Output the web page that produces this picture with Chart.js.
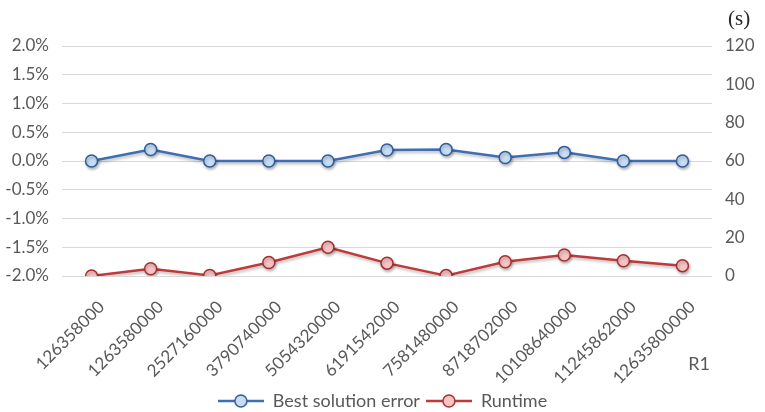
<!DOCTYPE html>
<html>
<head>
<meta charset="utf-8">
<script src="https://cdn.jsdelivr.net/npm/chart.js@4.4.1/dist/chart.umd.min.js"></script>
<style>
  html, body { margin: 0; padding: 0; background: #ffffff; }
  #wrap { width: 765px; height: 412px; position: relative; }
</style>
</head>
<body>
<div id="wrap"><canvas id="c" width="765" height="412"></canvas></div>
<script>
// ---- data ----
const categories = ['126358000','1263580000','2527160000','3790740000','5054320000','6191542000','7581480000','8718702000','10108640000','11245862000','12635800000'];
const bestSolutionError = [0, 0.20, 0, 0, 0, 0.19, 0.20, 0.06, 0.15, 0, 0]; // percent
const runtime = [0, 3.8, 0.3, 7.0, 15.0, 6.7, 0.2, 7.4, 11.0, 8.0, 5.4];       // seconds
const leftTicks = { min: -2, max: 2, step: 0.5 };
const rightTicks = { min: 0, max: 120, step: 20 };
const seriesNames = ['Best solution error', 'Runtime'];
const rightAxisUnit = '(s)';
const xAxisTitle = 'R1';

// ---- styles ----
const FONT = 'Lato';
const TXT = '#595959';
const BLUE = '#3F6FB2', BLUE_FILL = '#C8DCF4', BLUE_EDGE = '#2E5D9C';
const RED = '#C0393B', RED_FILL = '#F7C4C4', RED_EDGE = '#A62E30';

function legendIcon(line, fill, edge) {
  const cv = document.createElement('canvas');
  cv.width = 46; cv.height = 16;
  const g = cv.getContext('2d');
  g.strokeStyle = line; g.lineWidth = 2.5;
  g.beginPath(); g.moveTo(0, 8); g.lineTo(46, 8); g.stroke();
  g.beginPath(); g.arc(23, 8, 6, 0, Math.PI * 2);
  g.fillStyle = fill; g.fill();
  g.lineWidth = 1.5; g.strokeStyle = edge; g.stroke();
  return cv;
}
const icons = [legendIcon(BLUE, BLUE_FILL, BLUE_EDGE), legendIcon(RED, RED_FILL, RED_EDGE)];

const shadowPlugin = {
  id: 'shadow',
  beforeDatasetDraw(chart) {
    const c = chart.ctx; c.save();
    c.shadowColor = 'rgba(0,0,0,0.28)'; c.shadowBlur = 3; c.shadowOffsetX = 1; c.shadowOffsetY = 2;
  },
  afterDatasetDraw(chart) { chart.ctx.restore(); }
};

const extraText = {
  id: 'extraText',
  afterDraw(chart) {
    const c = chart.ctx; const a = chart.chartArea;
    c.save();
    c.fillStyle = '#262626';
    c.font = '21px "Liberation Serif"';
    c.textAlign = 'left'; c.textBaseline = 'middle';
    c.fillText(rightAxisUnit, a.right + 16, 19);
    c.fillStyle = TXT;
    c.font = '18px ' + FONT;
    c.textAlign = 'center';
    c.fillText(xAxisTitle, 699, 364);
    c.restore();
  }
};

Chart.defaults.font.family = FONT;
Chart.defaults.font.size = 17;
Chart.defaults.color = TXT;

new Chart(document.getElementById('c'), {
  type: 'line',
  data: {
    labels: categories,
    datasets: [
      {
        label: seriesNames[0], data: bestSolutionError, yAxisID: 'y',
        borderColor: BLUE, borderWidth: 2.5, pointBackgroundColor: BLUE_FILL,
        pointBorderColor: BLUE_EDGE, pointBorderWidth: 1.5, pointRadius: 6, tension: 0
      },
      {
        label: seriesNames[1], data: runtime, yAxisID: 'y2',
        borderColor: RED, borderWidth: 2.5, pointBackgroundColor: RED_FILL,
        pointBorderColor: RED_EDGE, pointBorderWidth: 1.5, pointRadius: 6, tension: 0
      }
    ]
  },
  options: {
    responsive: false,
    animation: false,
    layout: { padding: { top: 46, left: 0, right: 0, bottom: -8 } },
    plugins: {
      tooltip: { enabled: false },
      legend: {
        position: 'bottom',
        labels: {
          usePointStyle: true, pointStyleWidth: 46, padding: 6, color: TXT,
          font: { size: 18, family: FONT },
          generateLabels(chart) {
            const base = Chart.defaults.plugins.legend.labels.generateLabels(chart);
            return base.map((l, i) => Object.assign(l, { pointStyle: icons[i] }));
          }
        }
      }
    },
    scales: {
      x: {
        offset: true,
        grid: { display: false },
        border: { display: false },
        ticks: { minRotation: 45, maxRotation: 45, autoSkip: false, padding: 13, labelOffset: 10, color: TXT, font: { size: 17 } },
        afterFit(s) { s.height = 110; }
      },
      y: {
        position: 'left', min: leftTicks.min, max: leftTicks.max,
        grid: { color: '#D9D9D9', lineWidth: 1, drawTicks: false },
        border: { display: false },
        ticks: { stepSize: leftTicks.step, padding: 13, color: TXT, callback: v => v.toFixed(1) + '%' },
        afterFit(s) { s.width = 62; }
      },
      y2: {
        position: 'right', min: rightTicks.min, max: rightTicks.max,
        grid: { display: false, drawTicks: false },
        border: { display: false },
        ticks: { stepSize: rightTicks.step, padding: 13, color: TXT },
        afterFit(s) { s.width = 53; }
      }
    }
  },
  plugins: [shadowPlugin, extraText]
});
</script>
</body>
</html>
